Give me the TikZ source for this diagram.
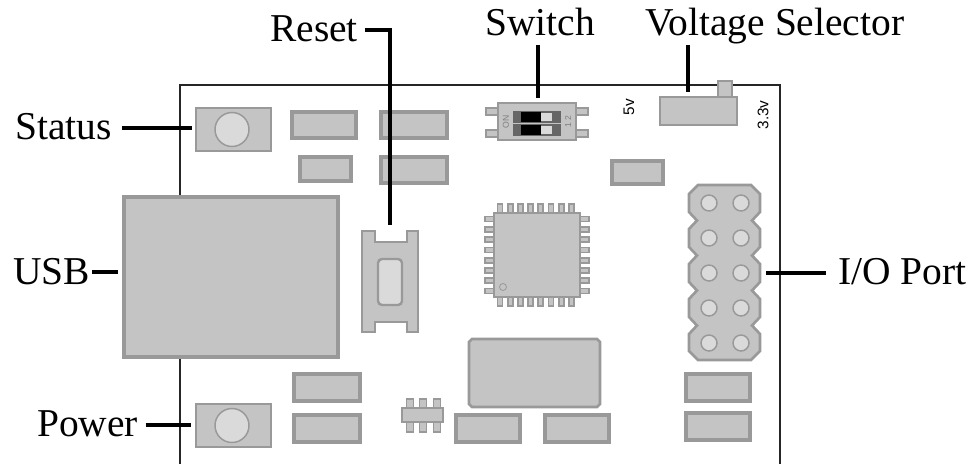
\documentclass[tikz,border=0pt]{standalone}
\usepackage{fontspec}
\setmainfont{Liberation Serif}
\newfontfamily\boardfont{Liberation Sans}
\definecolor{partfill}{HTML}{C4C4C4}
\definecolor{partline}{HTML}{999999}
\definecolor{holefill}{HTML}{DADADA}
\begin{document}
\begin{tikzpicture}[x=0.75pt,y=-0.75pt,
    part/.style={draw=partline,fill=partfill,line width=2.3pt,line join=miter},
    thinpart/.style={draw=partline,fill=partfill,line width=1.3pt},
    hole/.style={draw=partline,fill=holefill,line width=1.1pt},
    leader/.style={line width=3pt,black},
    callout/.style={inner sep=0pt,anchor=base west,font=\fontsize{29.6}{31}\selectfont},
    boardtext/.style={inner sep=0pt,rotate=90,black,font=\boardfont\fontsize{11.5}{12}\selectfont}]

  \useasboundingbox (0,0) rectangle (974,464);
  \fill[white] (0,0) rectangle (974,464);

  % board outline
  \draw[line width=1.5pt,black!85] (180,464) -- (180,85) -- (780,85) -- (780,464);

  % plain pads
  \foreach \xa/\ya/\xb/\yb in {292/112/356/138,381/112/447/138,300/157/351/181,381/157/447/183,
      612/161/663/184,294/374/360/401,294/415/360/442,456/415/520/442,545/415/609/442,
      686/374/750/401,686/413/750/440}
    \draw[part] (\xa,\ya) rectangle (\xb,\yb);

  % status and power leds
  \foreach \ya in {108,404} {
    \draw[part,line width=1.8pt] (196,\ya) rectangle (271,\ya+43);
    \draw[hole] (232,\ya+21.5) circle (17);
  }

  % usb socket
  \draw[part,line width=3pt] (124,197) rectangle (338,357);

  % reset button
  \draw[part,line width=2pt] (362,231) -- (375,231) -- (375,242) -- (407,242) -- (407,231) -- (418,231)
    -- (418,332) -- (407,332) -- (407,322) -- (375,322) -- (375,332) -- (362,332) -- cycle;
  \draw[hole,line width=1.8pt,rounded corners=3pt] (378,259) rectangle (402,305);

  % dip switch
  \foreach \ya in {108,130} {
    \draw[thinpart,line width=1pt] (486,\ya) rectangle (498,\ya+7);
    \draw[thinpart,line width=1pt] (576,\ya) rectangle (588,\ya+7);
  }
  \draw[part,line width=1.6pt] (498,103) rectangle (576,140);
  \foreach \ya in {111,124} {
    \fill[black!60] (513,\ya) rectangle (561,\ya+12);
    \fill[black] (521,\ya+1) rectangle (541,\ya+11);
    \fill[holefill] (541,\ya+2) rectangle (552,\ya+10);
  }
  \node[boardtext,text=black!50,font=\boardfont\fontsize{6.5}{7}\selectfont] (switchon) at (506,121.5) {ON};
  \node[boardtext,text=black!50,font=\boardfont\fontsize{6.5}{7}\selectfont] (switchnum) at (568,121.5) {1\,\,2};

  % voltage selector
  \draw[part,line width=1.6pt] (718,81) rectangle (732,97);
  \draw[part,line width=1.6pt] (660,97) rectangle (737,125);
  \node[boardtext] (fivev) at (629,107) {5v};
  \node[boardtext] (threev) at (763,115) {3.3v};

  % microcontroller
  \foreach \i in {0,...,7} {
    \draw[thinpart] (497.5+10.2*\i,204) rectangle (502.5+10.2*\i,213);
    \draw[thinpart] (497.5+10.2*\i,297) rectangle (502.5+10.2*\i,306);
    \draw[thinpart] (485,216.5+10.3*\i) rectangle (494,221.5+10.3*\i);
    \draw[thinpart] (580,216.5+10.3*\i) rectangle (589,221.5+10.3*\i);
  }
  \draw[part,line width=1.8pt] (494,213) rectangle (580,297);
  \draw[hole,fill=partfill,line width=.6pt] (503,287) circle (3.5);

  % crystal
  \draw[part,line width=2pt] (472,339) -- (597,339) -- (600,342) -- (600,404) -- (597,407)
    -- (472,407) -- (469,404) -- (469,342) -- cycle;

  % small transistor
  \foreach \x in {410,423,437} {
    \draw[thinpart] (\x-3.5,399) rectangle (\x+3.5,408);
    \draw[thinpart] (\x-3.5,422) rectangle (\x+3.5,432);
  }
  \draw[part,line width=1.8pt] (402,408) rectangle (443,422);

  % io header
  \draw[part,line width=2pt] (698,185) -- (751,185)
    \foreach \y in {0,35,70,105} { -- (760,194+\y) -- (760,212+\y) -- (752,220.5+\y) -- (760,229+\y) }
    -- (760,351) -- (751,360) -- (698,360) -- (689,351)
    \foreach \y in {105,70,35,0} { -- (689,229+\y) -- (697,220.5+\y) -- (689,212+\y) }
    -- (689,194) -- cycle;
  \foreach \y in {203,238,273,308,343} {
    \draw[hole] (709,\y) circle (8);
    \draw[hole] (741,\y) circle (8);
  }

  % callouts
  \node[callout] (status) at (15,139) {Status};
  \node[callout] (usb) at (13,284) {USB};
  \node[callout] (power) at (37,436) {Power};
  \node[callout] (reset) at (270,41) {Reset};
  \node[callout] (switch) at (485,36) {Switch};
  \node[callout] (voltage) at (645,36) {Voltage Selector};
  \node[callout] (ioport) at (838,284) {I/O Port};

  \coordinate (statusend) at (192,128);
  \coordinate (usbend) at (118,272);
  \coordinate (powerend) at (191,425);
  \coordinate (resetend) at (390,225);
  \coordinate (switchend) at (538,98);
  \coordinate (voltageend) at (688,92);
  \coordinate (ioportend) at (766,273);

  % leader lines
  \draw[leader,shorten <=7.5pt] (status.east |- statusend) -- (statusend);
  \draw[leader,shorten <=1.5pt] (usb.east |- usbend) -- (usbend);
  \draw[leader,shorten <=5.5pt] (power.east |- powerend) -- (powerend);
  \draw[leader,shorten <=5pt] (reset.east |- 0,30) -| (resetend);
  \draw[leader,shorten <=6pt] (switch.south -| switchend) -- (switchend);
  \draw[leader] (voltage.south -| voltageend) -- (voltageend);
  \draw[leader,shorten <=9pt] (ioport.west |- ioportend) -- (ioportend);

\end{tikzpicture}
\end{document}
